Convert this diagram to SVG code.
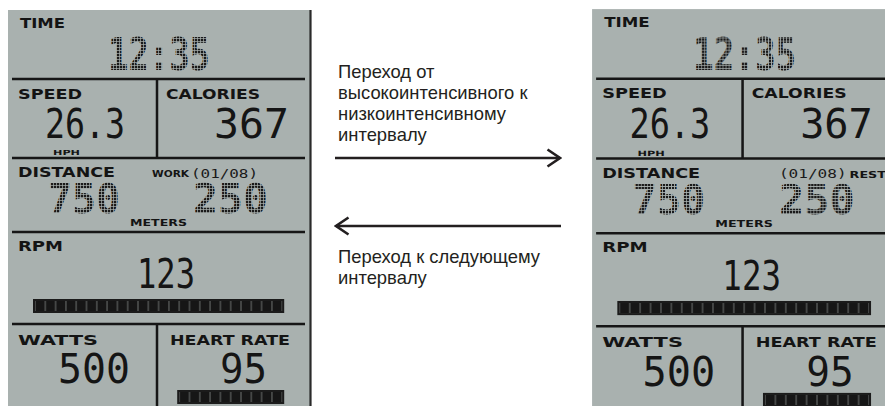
<svg xmlns="http://www.w3.org/2000/svg" width="885" height="406" viewBox="0 0 885 406">
<defs>
<style>
.bg{fill:#a9b1af}
.rule{stroke:#161616;stroke-width:2.5;fill:none}
.lbl{font-family:"DejaVu Sans",sans-serif;font-weight:bold;font-size:13.5px;fill:#141414}
.sm{font-family:"DejaVu Sans",sans-serif;font-weight:bold;fill:#141414}
.mono{font-family:"DejaVu Sans Mono",monospace;font-size:13px;fill:#1a1a1a}
.seg{font-family:"DejaVu Sans Mono",monospace;font-size:41px;fill:#151515}
.dot{font-family:"DejaVu Sans Mono",monospace;font-weight:bold;fill:url(#dots)}
.frame{fill:#1b1b1b}
.gap{fill:#5f6261}
.cells{fill:url(#cell)}
.cap{font-family:"Liberation Sans",Arial,sans-serif;font-size:18.4px;fill:#231f20}
.arrow{stroke:#231f20;stroke-width:2.6;fill:none}
</style>
<pattern id="dots" width="3" height="3" patternUnits="userSpaceOnUse"><rect width="2.3" height="2.3" fill="#1a1a1a"/></pattern>
<pattern id="cell" x="35" y="301" width="10.3" height="10" patternUnits="userSpaceOnUse"><rect x="0.6" width="9.1" height="10" fill="#161616"/></pattern>
<marker id="chev" markerUnits="userSpaceOnUse" markerWidth="16" markerHeight="22" refX="14" refY="10" orient="auto"><path d="M1.5,1.5 L14,10 L1.5,18.5" fill="none" stroke="#231f20" stroke-width="2.6"/></marker>
</defs>

<g id="panel-work">
<rect class="bg" x="8" y="10" width="302" height="396"/>
<line x1="310.5" y1="10" x2="310.5" y2="406" stroke="#2a2a2a" stroke-width="2.2"/>
<path class="rule" d="M12,79H305M157,79V158M12,158H305M12,232H305M12,324H305M157,324V406"/>
<text class="lbl" x="20" y="27.5" textLength="45" lengthAdjust="spacingAndGlyphs">TIME</text>
<text class="dot" x="108" y="70" font-size="44" textLength="102" lengthAdjust="spacingAndGlyphs">12:35</text>
<text class="lbl" x="18" y="98.5" textLength="64" lengthAdjust="spacingAndGlyphs">SPEED</text>
<text class="lbl" x="166" y="98.5" textLength="94" lengthAdjust="spacingAndGlyphs">CALORIES</text>
<text class="seg" x="45" y="138" textLength="80" lengthAdjust="spacingAndGlyphs">26.3</text>
<text class="sm" x="53" y="155" font-size="7" textLength="27" lengthAdjust="spacingAndGlyphs">HPH</text>
<text class="seg" x="214" y="138" textLength="75" lengthAdjust="spacingAndGlyphs">367</text>
<text class="lbl" x="18" y="177" textLength="97" lengthAdjust="spacingAndGlyphs">DISTANCE</text>
<text class="sm" x="152" y="177" font-size="9.5" textLength="37" lengthAdjust="spacingAndGlyphs">WORK</text>
<text class="mono" x="191" y="177.5" textLength="67" lengthAdjust="spacingAndGlyphs">(01/08)</text>
<text class="dot" x="48" y="213" font-size="41" textLength="72" lengthAdjust="spacingAndGlyphs">750</text>
<text class="dot" x="193" y="213" font-size="41" textLength="75" lengthAdjust="spacingAndGlyphs">250</text>
<text class="sm" x="130" y="225.5" font-size="9" textLength="57" lengthAdjust="spacingAndGlyphs">METERS</text>
<text class="lbl" x="18" y="250.5" textLength="45" lengthAdjust="spacingAndGlyphs">RPM</text>
<text class="seg" x="137" y="288" textLength="58" lengthAdjust="spacingAndGlyphs">123</text>
<rect class="frame" x="33" y="299" width="251.2" height="14"/>
<rect class="gap" x="35" y="301" width="247.2" height="10"/>
<rect class="cells" x="35" y="301" width="247.2" height="10"/>
<text class="lbl" x="18" y="344.5" textLength="80" lengthAdjust="spacingAndGlyphs">WATTS</text>
<text class="lbl" x="170" y="344.5" textLength="120" lengthAdjust="spacingAndGlyphs">HEART RATE</text>
<text class="seg" x="58" y="383" textLength="72" lengthAdjust="spacingAndGlyphs">500</text>
<text class="seg" x="220" y="383" textLength="47" lengthAdjust="spacingAndGlyphs">95</text>
<rect class="frame" x="177.2" y="390" width="107" height="14"/>
<rect class="gap" x="179.2" y="392" width="103" height="10"/>
<rect class="cells" x="179.2" y="392" width="103" height="10"/>
</g>

<g id="panel-rest" transform="translate(584,-1) scale(1.01)">
<rect class="bg" x="8" y="10" width="302" height="400"/>
<path class="rule" d="M12,79H305M157,79V158M12,158H305M12,232H305M12,324H305M157,324V406"/>
<text class="lbl" x="20" y="27.5" textLength="45" lengthAdjust="spacingAndGlyphs">TIME</text>
<text class="dot" x="108" y="70" font-size="44" textLength="102" lengthAdjust="spacingAndGlyphs">12:35</text>
<text class="lbl" x="18" y="98.5" textLength="64" lengthAdjust="spacingAndGlyphs">SPEED</text>
<text class="lbl" x="166" y="98.5" textLength="94" lengthAdjust="spacingAndGlyphs">CALORIES</text>
<text class="seg" x="45" y="138" textLength="80" lengthAdjust="spacingAndGlyphs">26.3</text>
<text class="sm" x="53" y="155" font-size="7" textLength="27" lengthAdjust="spacingAndGlyphs">HPH</text>
<text class="seg" x="214" y="138" textLength="72" lengthAdjust="spacingAndGlyphs">367</text>
<text class="lbl" x="18" y="177" textLength="97" lengthAdjust="spacingAndGlyphs">DISTANCE</text>
<text class="mono" x="193" y="177.5" textLength="67" lengthAdjust="spacingAndGlyphs">(01/08)</text>
<text class="sm" x="263" y="177" font-size="9.5" textLength="36" lengthAdjust="spacingAndGlyphs">REST</text>
<text class="dot" x="48" y="213" font-size="41" textLength="72" lengthAdjust="spacingAndGlyphs">750</text>
<text class="dot" x="193" y="213" font-size="41" textLength="75" lengthAdjust="spacingAndGlyphs">250</text>
<text class="sm" x="130" y="225.5" font-size="9" textLength="57" lengthAdjust="spacingAndGlyphs">METERS</text>
<text class="lbl" x="18" y="250.5" textLength="45" lengthAdjust="spacingAndGlyphs">RPM</text>
<text class="seg" x="137" y="288" textLength="58" lengthAdjust="spacingAndGlyphs">123</text>
<rect class="frame" x="33" y="299" width="251.2" height="14"/>
<rect class="gap" x="35" y="301" width="247.2" height="10"/>
<rect class="cells" x="35" y="301" width="247.2" height="10"/>
<text class="lbl" x="18" y="344.5" textLength="80" lengthAdjust="spacingAndGlyphs">WATTS</text>
<text class="lbl" x="170" y="344.5" textLength="120" lengthAdjust="spacingAndGlyphs">HEART RATE</text>
<text class="seg" x="58" y="383" textLength="72" lengthAdjust="spacingAndGlyphs">500</text>
<text class="seg" x="220" y="383" textLength="47" lengthAdjust="spacingAndGlyphs">95</text>
<rect class="frame" x="177.2" y="390" width="107" height="14"/>
<rect class="gap" x="179.2" y="392" width="103" height="10"/>
<rect class="cells" x="179.2" y="392" width="103" height="10"/>
</g>

<g id="connectors">
<line class="arrow" x1="335" y1="158" x2="560" y2="158" marker-end="url(#chev)"/>
<line class="arrow" x1="561" y1="226" x2="336" y2="226" marker-end="url(#chev)"/>
</g>

<g id="label-forward">
<text class="cap" x="338" y="78">Переход от</text>
<text class="cap" x="338" y="99">высокоинтенсивного к</text>
<text class="cap" x="338" y="120">низкоинтенсивному</text>
<text class="cap" x="338" y="141">интервалу</text>
</g>
<g id="label-back">
<text class="cap" x="338" y="263">Переход к следующему</text>
<text class="cap" x="338" y="284">интервалу</text>
</g>
</svg>
